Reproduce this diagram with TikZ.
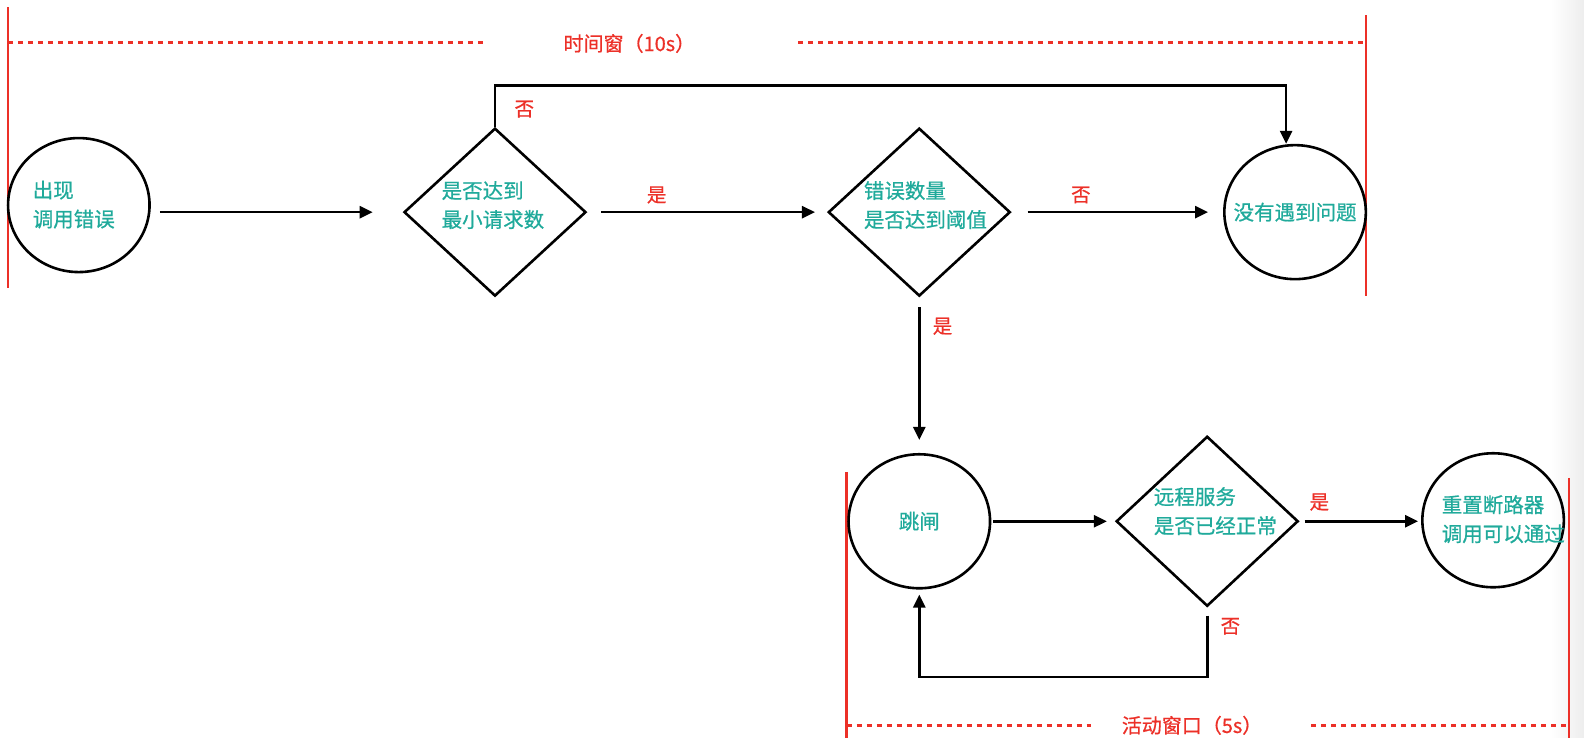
\documentclass[tikz,border=0pt]{standalone}
\usepackage{fontspec}
\setmainfont{Noto Sans CJK SC}
\newfontfamily\cjkmed{Noto Sans CJK SC}[FakeBold=0.7]
\usetikzlibrary{shapes.geometric,arrows.meta}
\definecolor{tealtxt}{RGB}{32,170,155}
\definecolor{redwin}{RGB}{236,48,40}
\begin{document}
\begin{tikzpicture}[x=1.0102pt,y=-1.0102pt,
  circ/.style={draw,line width=2.6pt,ellipse,inner sep=0pt,minimum width=141.5pt,minimum height=134pt},
  dia/.style={draw,line width=2.6pt,diamond,inner sep=0pt,minimum width=182pt,minimum height=168pt},
  txt/.style={text=tealtxt,font=\cjkmed\fontsize{20.5}{29}\selectfont,align=left,inner sep=0pt},
  lbl/.style={text=redwin,font=\cjkmed\fontsize{19.5}{24}\selectfont,inner sep=0pt},
  wintxt/.style={text=redwin,font=\cjkmed\fontsize{20}{24}\selectfont,inner sep=0pt},
  conn/.style={line width=2.6pt,-{Triangle[length=13pt,width=12pt]}},
  win/.style={draw=redwin,line width=2.4pt},
  windash/.style={draw=redwin,line width=2.4pt,dash pattern=on 5pt off 5pt}]
\useasboundingbox (0,0) rectangle (1568,730.5);
\shade[left color=white,right color=black!7] (1535,0) rectangle (1568,730.5);

% time windows
\coordinate (wa1) at (8,7);   \coordinate (wa2) at (8,285);
\coordinate (wb1) at (1352,15); \coordinate (wb2) at (1352,293);
\coordinate (da1) at (8,42);  \coordinate (da2) at (480,42);
\coordinate (db1) at (790,42); \coordinate (db2) at (1350,42);
\draw[win] (wa1) -- (wa2);
\draw[win] (wb1) -- (wb2);
\draw[windash] (da1) -- (da2);
\draw[windash] (db1) -- (db2);
\node[wintxt] (wt1) at (623,43) {时间窗（10s）};

\coordinate (wc1) at (838,467); \coordinate (wc2) at (838,730.5);
\coordinate (wd1) at (1553,473); \coordinate (wd2) at (1553,730.5);
\coordinate (dc1) at (838,718); \coordinate (dc2) at (1080,718);
\coordinate (dd1) at (1298,718); \coordinate (dd2) at (1550,718);
\draw[win] (wc1) -- (wc2);
\draw[win] (wd1) -- (wd2);
\draw[windash] (dc1) -- (dc2);
\draw[windash] (dd1) -- (dd2);
\node[wintxt] (wt2) at (1180,718) {活动窗口（5s）};

% shapes
\node[circ] (c1) at (78,203) {};
\node[txt] (t1) at (73,202.5) {出现\\调用错误};
\node[dia] (d1) at (490,210) {};
\node[txt,anchor=west] (t2) at (437,203) {是否达到\\最小请求数};
\node[dia] (d2) at (910,210) {};
\node[txt,anchor=west] (t3) at (855,203) {错误数量\\是否达到阈值};
\node[circ] (c3) at (1282,210) {};
\node[txt] (t4) at (1282,210) {没有遇到问题};
\node[circ] (c4) at (910,516) {};
\node[txt] (t5) at (910,516) {跳闸};
\node[dia,minimum height=170pt] (d3) at (1195,516) {};
\node[txt,anchor=west] (t6) at (1142,506) {远程服务\\是否已经正常};
\node[circ] (c5) at (1478,515) {};
\node[txt,anchor=west] (t7) at (1427,514) {重置断路器\\调用可以通过};

% connectors
\draw[conn] ([xshift=9pt]c1.east |- d1.west) -- ([xshift=-30pt]d1.west);
\draw[conn] ([xshift=14pt]d1.east) -- ([xshift=-12pt]d2.west);
\node[lbl] (l1) at (650,193) {是};
\draw[conn] ([xshift=16pt]d2.east) -- ([xshift=-15pt]c3.west);
\node[lbl] (l2) at (1070,193) {否};
\draw[conn] (d1.north) -- ++(0,-41) -| ([xshift=-9pt]c3.north);
\node[lbl] (l3) at (519,108) {否};
\draw[conn] ([yshift=-10pt]d2.south) -- ([yshift=13pt]c4.north);
\node[lbl] (l4) at (933,323) {是};
\draw[conn] ([xshift=2pt]c4.east) -- ([xshift=-8pt]d3.west);
\coordinate (lb) at (0,670);
\draw[conn] ([yshift=-8pt]d3.south) -- (d3.south |- lb) -| ([yshift=-5pt]c4.south);
\node[lbl] (l5) at (1218,620) {否};
\draw[conn] ([xshift=5pt]d3.east) -- ([xshift=-3pt]c5.west |- d3.east);
\node[lbl] (l6) at (1306,497) {是};
\end{tikzpicture}
\end{document}
